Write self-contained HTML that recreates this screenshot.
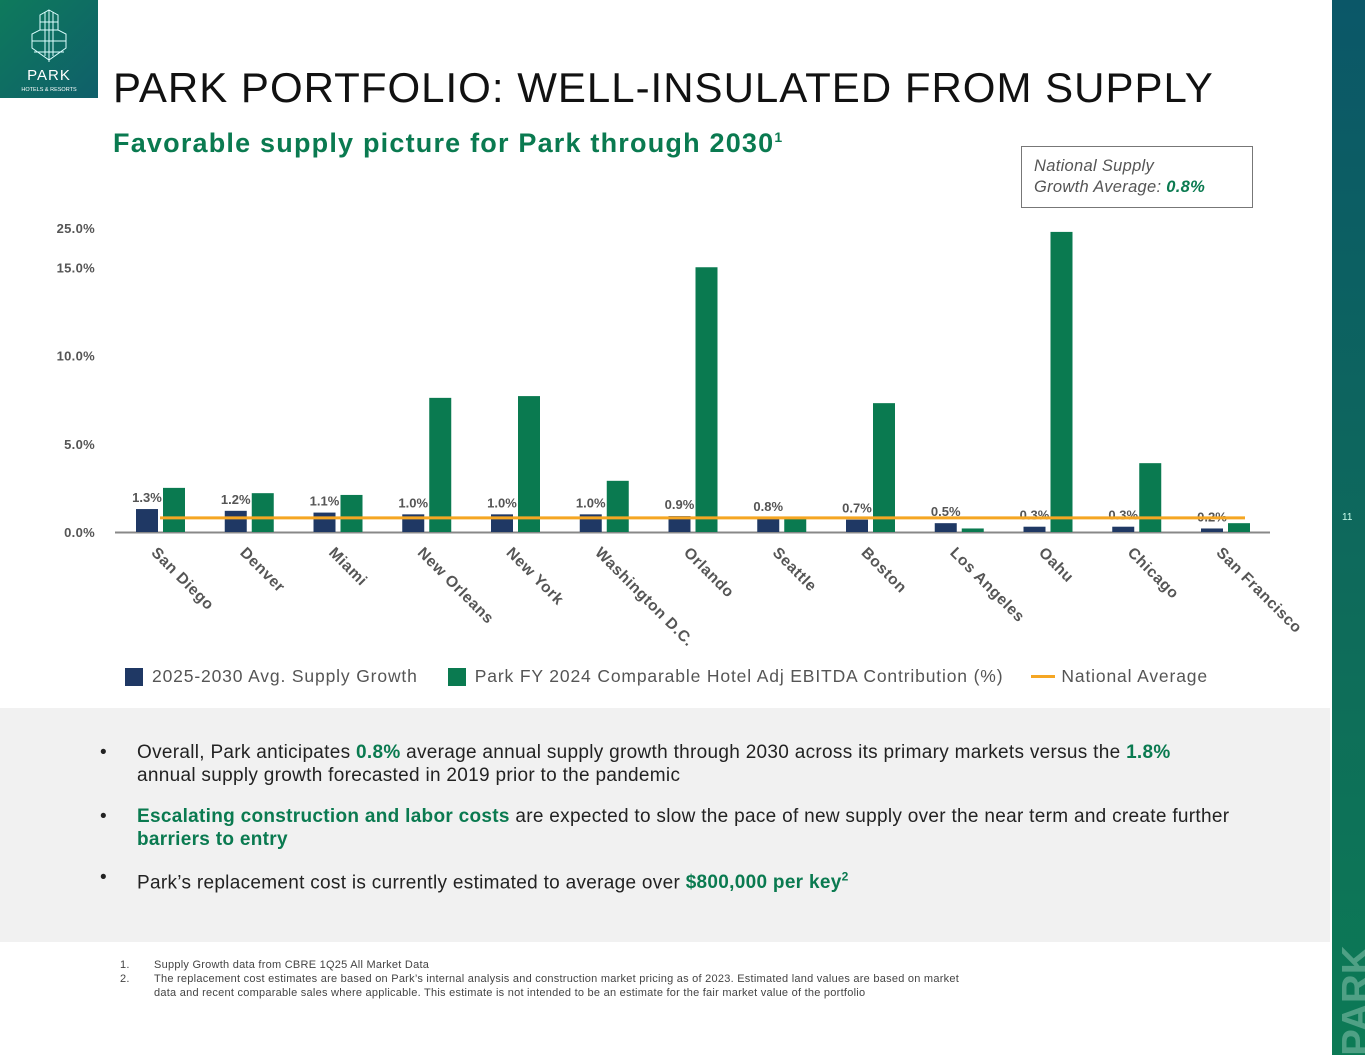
<!DOCTYPE html>
<html><head><meta charset="utf-8"><style>
body{margin:0;width:1365px;height:1055px;position:relative;background:#fff;font-family:"Liberation Sans",sans-serif;overflow:hidden}
.abs{position:absolute}
</style></head><body>
<div class="abs" style="left:0;top:0;width:98px;height:98px;background:linear-gradient(135deg,#0e7a5c,#0f5f6a);">
<svg width="98" height="98"><g stroke="#dff" stroke-width="1" fill="none">
<path d="M49 10 L58 15 L58 30 L66 34 L66 48 L49 60 L32 48 L32 34 L40 30 L40 15 Z M49 10 L49 62 M40 22 L58 22 M32 41 L66 41 M40 30 L58 30 M34 52 L64 52 M45 12 L45 56 M53 12 L53 56"/></g>
<text x="49" y="80" fill="#fff" font-size="15" text-anchor="middle" font-family="Liberation Sans" letter-spacing="1">PARK</text>
<text x="49" y="91" fill="#fff" font-size="5.5" text-anchor="middle" font-family="Liberation Sans">HOTELS &amp; RESORTS</text></svg></div>
<div class="abs" style="left:113px;top:64px;font-size:42px;color:#111;letter-spacing:1px">PARK PORTFOLIO: WELL-INSULATED FROM SUPPLY</div>
<div class="abs" style="left:113px;top:128px;font-size:27px;font-weight:bold;color:#0a7a50;letter-spacing:1.2px">Favorable supply picture for Park through 2030<sup style="font-size:14px">1</sup></div>
<div class="abs" style="left:1021px;top:146px;width:232px;height:62px;border:1px solid #777;box-sizing:border-box;padding:9px 12px;font-size:16.5px;font-style:italic;color:#555;line-height:21px;letter-spacing:0.3px">National Supply<br>Growth Average: <b style="color:#0a7a50">0.8%</b></div>
<div class="abs" style="left:1332px;top:0;width:33px;height:1055px;background:linear-gradient(180deg,#0b5768,#0e6c5a 60%,#0c7a55)"><div style="position:absolute;top:512px;left:10px;color:#cfe;font-size:10px">11</div>
<div style="position:absolute;top:978px;left:-30px;transform:rotate(-90deg);font-size:40px;font-weight:bold;color:#4fa085">PARK</div></div>
<svg class="abs" style="left:0;top:0" width="1330" height="700" id="chart"></svg>
<div class="abs" style="left:125px;top:666px;font-size:17.5px;color:#555;display:flex;align-items:center;letter-spacing:0.85px">
<span style="width:18px;height:18px;background:#1f3864;display:inline-block;margin-right:9px"></span><span style="margin-right:30px">2025-2030 Avg. Supply Growth</span>
<span style="width:18px;height:18px;background:#0a7a50;display:inline-block;margin-right:9px"></span><span style="margin-right:28px">Park FY 2024 Comparable Hotel Adj EBITDA Contribution (%)</span>
<span style="width:24px;height:3px;background:#f5a623;display:inline-block;margin-right:6px"></span><span>National Average</span></div>
<div class="abs" style="left:0;top:708px;width:1330px;height:234px;background:#f1f1f1;font-size:19px;color:#222;line-height:23px;letter-spacing:0.3px">
<div style="position:absolute;left:100px;top:33px">•</div><div style="position:absolute;left:137px;top:33px;width:1095px">Overall, Park anticipates <b style="color:#0a7a50">0.8%</b> average annual supply growth through 2030 across its primary markets versus the <b style="color:#0a7a50">1.8%</b> annual supply growth forecasted in 2019 prior to the pandemic</div>
<div style="position:absolute;left:100px;top:97px">•</div><div style="position:absolute;left:137px;top:97px;width:1095px"><b style="color:#0a7a50">Escalating construction and labor costs</b> are expected to slow the pace of new supply over the near term and create further <b style="color:#0a7a50">barriers to entry</b></div>
<div style="position:absolute;left:100px;top:158px">•</div><div style="position:absolute;left:137px;top:158px">Park’s replacement cost is currently estimated to average over <b style="color:#0a7a50">$800,000 per key<sup style="font-size:12px">2</sup></b></div></div>
<div class="abs" style="left:120px;top:958px;font-size:11px;color:#444;line-height:14px;letter-spacing:0.25px">
<div style="position:absolute;left:0">1.</div><div style="position:absolute;left:34px;white-space:nowrap">Supply Growth data from CBRE 1Q25 All Market Data</div>
<div style="position:absolute;left:0;top:14px">2.</div><div style="position:absolute;left:34px;top:14px;width:820px">The replacement cost estimates are based on Park’s internal analysis and construction market pricing as of 2023. Estimated land values are based on market data and recent comparable sales where applicable. This estimate is not intended to be an estimate for the fair market value of the portfolio</div></div>
<script>
const categories=["San Diego","Denver","Miami","New Orleans","New York","Washington D.C.","Orlando","Seattle","Boston","Los Angeles","Oahu","Chicago","San Francisco"];
const supplyGrowth=[1.3,1.2,1.1,1.0,1.0,1.0,0.9,0.8,0.7,0.5,0.3,0.3,0.2];
const supplyLabels=["1.3%","1.2%","1.1%","1.0%","1.0%","1.0%","0.9%","0.8%","0.7%","0.5%","0.3%","0.3%","0.2%"];
const ebitdaShare=[2.5,2.2,2.1,7.6,7.7,2.9,15.0,0.8,7.3,0.2,24.0,3.9,0.5];
const nationalAverage=0.8;
const tickValues=[0,5,10,15,25];
const tickLabels=["0.0%","5.0%","10.0%","15.0%","25.0%"];
const svg=document.getElementById('chart');const NS='http://www.w3.org/2000/svg';
function y(v){return v<=15?532-v*17.65:267-(v-15)*3.9;}
function x(i){return 160+i*88.75;}
function mk(t,a,p){const e=document.createElementNS(NS,t);for(const k in a)e.setAttribute(k,a[k]);(p||svg).appendChild(e);return e;}
tickValues.forEach((v,i)=>{const t=mk('text',{x:95,y:y(v)+5,'text-anchor':'end','font-size':13,'font-weight':'bold',fill:'#555','letter-spacing':0.3});t.textContent=tickLabels[i];

});
const ax=mk('line',{x1:115,x2:1270,y1:532.5,y2:532.5,stroke:'#888','stroke-width':2});


categories.forEach((c,i)=>{
const b=mk('rect',{x:x(i)-24,y:y(supplyGrowth[i]),width:22,height:532-y(supplyGrowth[i]),fill:'#1f3864'});


const g=mk('rect',{x:x(i)+3,y:y(ebitdaShare[i]),width:22,height:532-y(ebitdaShare[i]),fill:'#0a7a50'});


const l=mk('text',{x:x(i)-13,y:y(supplyGrowth[i])-7,'text-anchor':'middle','font-size':13,'font-weight':'bold',fill:'#555'});l.textContent=supplyLabels[i];


const cl=mk('text',{x:x(i)-6,y:555,'font-size':15.5,'font-weight':'bold',fill:'#555','letter-spacing':0.6,transform:`rotate(45 ${x(i)-6} 550)`});cl.textContent=c;

});
const nl=mk('line',{x1:x(0),x2:x(categories.length-1)+20,y1:y(nationalAverage),y2:y(nationalAverage),stroke:'#f5a623','stroke-width':3});


</script>
</body></html>
